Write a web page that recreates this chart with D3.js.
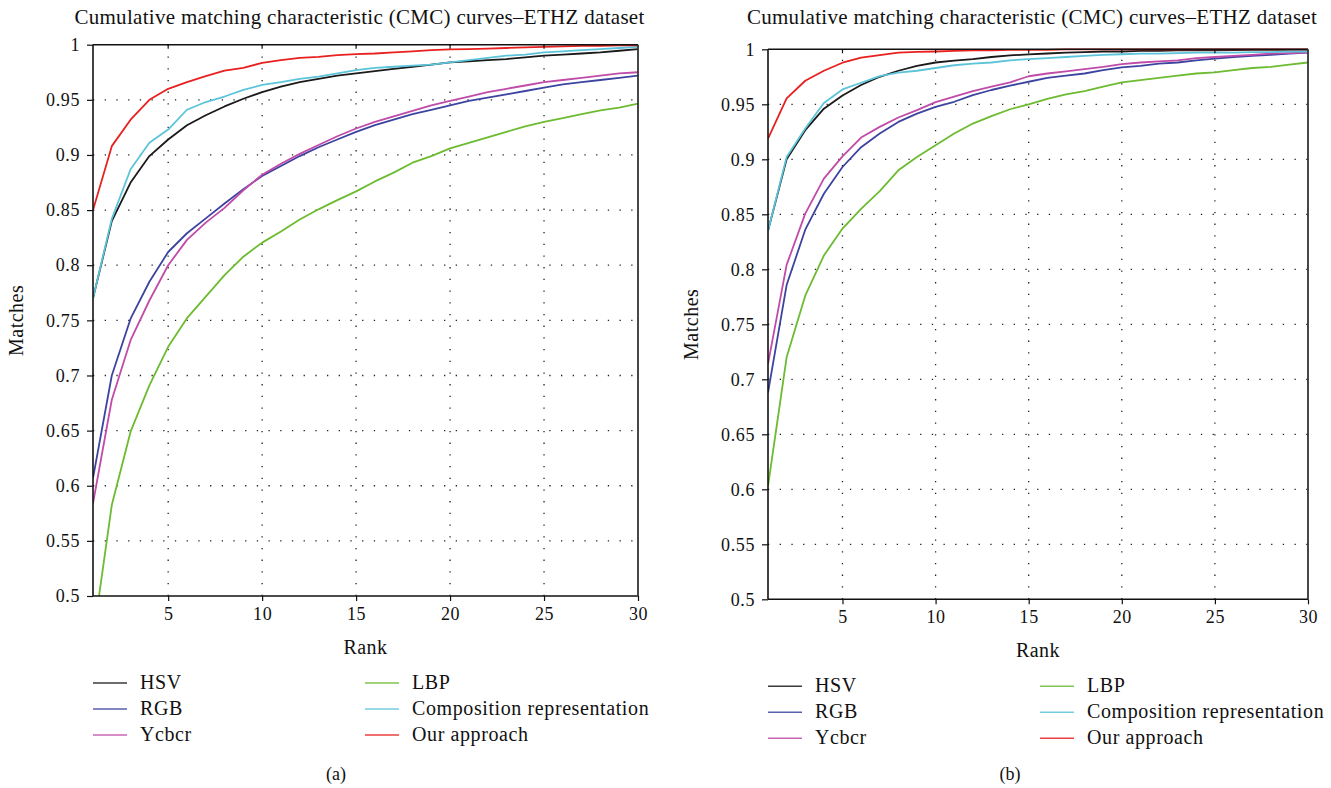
<!DOCTYPE html>
<html><head><meta charset="utf-8">
<script src="https://cdn.jsdelivr.net/npm/d3@7"></script>
<style>
body{margin:0;background:#fff;}
text{font-family:"Liberation Serif","Times New Roman",serif;fill:#111;}
</style></head>
<body><svg id="c" width="1331" height="788"></svg>
<script>
// ---------- data ----------
const ranks = [1,2,3,4,5,6,7,8,9,10,11,12,13,14,15,16,17,18,19,20,21,22,23,24,25,26,27,28,29,30];
const xTicks = [5,10,15,20,25,30];
const yTicks = [0.5,0.55,0.6,0.65,0.7,0.75,0.8,0.85,0.9,0.95,1];
const seriesNames = ["HSV","RGB","Ycbcr","LBP","Composition representation","Our approach"];
const seriesColors = ["#1a1a1a","#3d44a0","#c04ba8","#6dbb30","#5cc4da","#e8201f"];
const titleText = "Cumulative matching characteristic (CMC) curves\u2013ETHZ dataset";

// panel (a)
const hsvA   = [0.770,0.840,0.875,0.899,0.914,0.927,0.936,0.944,0.951,0.957,0.962,0.966,0.969,0.972,0.974,0.976,0.978,0.980,0.982,0.984,0.985,0.986,0.987,0.9885,0.990,0.991,0.992,0.993,0.9945,0.996];
const rgbA   = [0.607,0.700,0.7515,0.785,0.812,0.829,0.8425,0.856,0.869,0.881,0.890,0.899,0.907,0.914,0.921,0.927,0.932,0.937,0.941,0.945,0.949,0.952,0.955,0.958,0.961,0.964,0.966,0.968,0.970,0.972];
const ycbcrA = [0.584,0.678,0.732,0.768,0.800,0.823,0.8386,0.852,0.868,0.882,0.892,0.901,0.909,0.917,0.924,0.930,0.935,0.940,0.945,0.949,0.953,0.957,0.960,0.963,0.966,0.968,0.970,0.972,0.974,0.975];
const lbpA   = [0.461,0.5825,0.649,0.691,0.726,0.752,0.7715,0.791,0.8077,0.8205,0.8305,0.8414,0.8507,0.859,0.867,0.876,0.884,0.893,0.899,0.906,0.911,0.916,0.921,0.926,0.930,0.9335,0.937,0.9405,0.943,0.9465];
const compA  = [0.770,0.842,0.887,0.911,0.923,0.941,0.948,0.953,0.959,0.9635,0.966,0.969,0.971,0.974,0.977,0.979,0.980,0.981,0.982,0.984,0.986,0.988,0.990,0.991,0.993,0.994,0.995,0.996,0.997,0.998];
const oursA  = [0.850,0.908,0.932,0.950,0.960,0.966,0.9715,0.9765,0.979,0.9835,0.986,0.988,0.989,0.9905,0.9915,0.992,0.993,0.994,0.995,0.9957,0.996,0.9965,0.997,0.9975,0.998,0.9985,0.999,0.999,0.9995,0.9995];

// panel (b)
const hsvB   = [0.835,0.900,0.9265,0.946,0.958,0.9675,0.975,0.9805,0.985,0.988,0.9897,0.991,0.993,0.9945,0.9954,0.9962,0.997,0.9975,0.998,0.998,0.9985,0.9985,0.999,0.999,0.999,0.9993,0.9995,0.9995,0.9995,0.9995];
const rgbB   = [0.688,0.7857,0.836,0.8687,0.893,0.911,0.9234,0.934,0.9415,0.9477,0.9523,0.9583,0.963,0.967,0.9705,0.974,0.976,0.978,0.981,0.9835,0.985,0.987,0.988,0.990,0.9915,0.993,0.994,0.995,0.996,0.997];
const ycbcrB = [0.714,0.804,0.8506,0.8824,0.9027,0.9198,0.9295,0.938,0.9447,0.952,0.957,0.962,0.966,0.970,0.9755,0.978,0.980,0.982,0.984,0.9865,0.988,0.989,0.990,0.992,0.993,0.994,0.995,0.996,0.9965,0.997];
const lbpB   = [0.603,0.720,0.776,0.8125,0.837,0.855,0.871,0.890,0.902,0.9128,0.9234,0.9325,0.9392,0.9455,0.950,0.955,0.959,0.962,0.966,0.970,0.972,0.974,0.976,0.978,0.979,0.981,0.983,0.984,0.986,0.988];
const compB  = [0.835,0.902,0.928,0.9512,0.9635,0.9696,0.9757,0.9787,0.9805,0.983,0.9855,0.987,0.988,0.990,0.991,0.992,0.993,0.994,0.995,0.9955,0.996,0.996,0.9965,0.997,0.997,0.997,0.9975,0.9975,0.998,0.998];
const oursB  = [0.9188,0.9553,0.9714,0.9805,0.9878,0.9924,0.9948,0.997,0.9976,0.998,0.9985,0.999,0.999,0.9995,0.9995,0.9995,1,1,1,1,1,1,1,1,1,1,1,1,1,1];

// ---------- drawing ----------
const FONT = "'Liberation Serif','Times New Roman',serif";
const svg = d3.select("#c");
svg.append("rect").attr("width",1331).attr("height",788).attr("fill","#fff");

function panel(cfg){
  const {id,left,right,top,bottom,series,caption} = cfg;
  const x = d3.scaleLinear().domain([1,30]).range([left,right]);
  const y = d3.scaleLinear().domain([0.5,1]).range([bottom,top]);
  const g = svg.append("g").attr("font-family",FONT);

  // grid
  g.append("g").selectAll("line").data(yTicks.filter(v=>v>0.5&&v<1)).join("line")
    .attr("x1",left).attr("x2",right).attr("y1",d=>y(d)).attr("y2",d=>y(d))
    .attr("stroke","#222").attr("stroke-width",1.3).attr("stroke-dasharray","1.3,10.4");
  g.append("g").selectAll("line").data(xTicks.filter(v=>v<30)).join("line")
    .attr("x1",d=>x(d)).attr("x2",d=>x(d)).attr("y1",bottom).attr("y2",top)
    .attr("stroke","#222").attr("stroke-width",1.3).attr("stroke-dasharray","1.3,10.4");

  // clip
  svg.append("clipPath").attr("id","clip"+id).append("rect")
    .attr("x",left).attr("y",top-2).attr("width",right-left).attr("height",bottom-top+2);

  const line = d3.line().x((d,i)=>x(ranks[i])).y(d=>y(d));
  const lg = g.append("g").attr("clip-path","url(#clip"+id+")");
  const order = [3,1,2,0,4,5];
  order.forEach(k=>{
    lg.append("path").datum(series[k]).attr("d",line).attr("fill","none")
      .attr("stroke",seriesColors[k]).attr("stroke-width",1.8).attr("stroke-linejoin","round");
  });

  // axes
  const ax = g.append("g").attr("transform",`translate(0,${bottom})`)
    .call(d3.axisBottom(x).tickValues(xTicks).tickSize(5).tickPadding(6).tickFormat(d3.format("d")));
  const ay = g.append("g").attr("transform",`translate(${left},0)`)
    .call(d3.axisLeft(y).tickValues(yTicks).tickSize(6).tickPadding(7).tickFormat(d=>d3.format("")(+d.toFixed(2))));
  [ax,ay].forEach(a=>{
    a.attr("font-family",FONT);
    a.select(".domain").attr("stroke","#111").attr("stroke-width",1.6);
    a.selectAll(".tick line").attr("stroke","#111").attr("stroke-width",1.2);
    a.selectAll("text").attr("font-size",18).attr("letter-spacing","0.6px").attr("fill","#111")
      .attr("font-family",FONT);
  });
  ax.select(".domain").attr("d",`M${left},0H${right}`);
  ay.select(".domain").attr("d",`M0,${bottom}V${top}`);
  // top & right border
  g.append("line").attr("x1",left).attr("x2",right).attr("y1",top).attr("y2",top)
    .attr("stroke","#111").attr("stroke-width",1.6);
  g.append("g").selectAll("line").data(xTicks.filter(v=>v<30)).join("line")
    .attr("x1",d=>x(d)).attr("x2",d=>x(d)).attr("y1",top).attr("y2",top+4)
    .attr("stroke","#111").attr("stroke-width",1.2);
  g.append("line").attr("x1",right).attr("x2",right).attr("y1",top).attr("y2",bottom)
    .attr("stroke","#333").attr("stroke-width",1.8);

  // titles
  g.append("text").attr("x",(left+right)/2 - 6).attr("y",24).attr("text-anchor","middle")
    .attr("font-size",21).attr("letter-spacing","0.3px").text(titleText);
  g.append("text").attr("x",(left+right)/2).attr("y",bottom+58).attr("text-anchor","middle")
    .attr("font-size",20).attr("letter-spacing","0.4px").text("Rank");
  g.append("text").attr("transform",`translate(${left-70},${(top+bottom)/2}) rotate(-90)`)
    .attr("text-anchor","middle").attr("font-size",20).attr("letter-spacing","0.5px").text("Matches");

  // legend
  const cols = [left, left+272];
  seriesNames.forEach((nm,i)=>{
    const cx = cols[Math.floor(i/3)], cy = bottom + 87 + (i%3)*26;
    g.append("line").attr("x1",cx).attr("x2",cx+34).attr("y1",cy).attr("y2",cy)
      .attr("stroke",seriesColors[i]).attr("stroke-width",1.6).attr("opacity",0.85);
    g.append("text").attr("x",cx+47).attr("y",cy+6).attr("font-size",20)
      .attr("letter-spacing","0.6px").text(nm);
  });
  g.append("text").attr("x",caption).attr("y",780).attr("text-anchor","middle")
    .attr("font-size",18).text(id==="a"?"(a)":"(b)");
}

panel({id:"a",left:93,right:638,top:44.7,bottom:596,
  series:[hsvA,rgbA,ycbcrA,lbpA,compA,oursA],caption:336});
panel({id:"b",left:768,right:1308,top:49.3,bottom:599.3,
  series:[hsvB,rgbB,ycbcrB,lbpB,compB,oursB],caption:1010});
</script></body></html>
